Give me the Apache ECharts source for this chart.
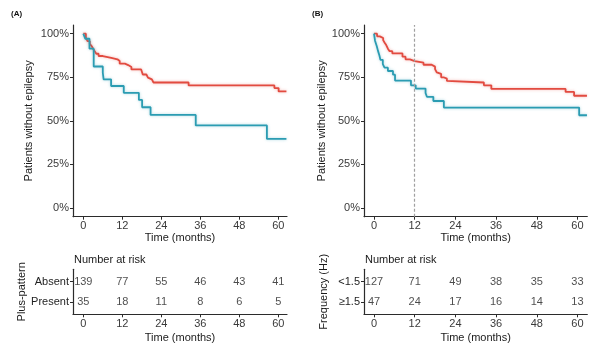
<!DOCTYPE html>
<html>
<head>
<meta charset="utf-8">
<script src="https://cdn.jsdelivr.net/npm/echarts@6/dist/echarts.min.js"></script>
<style>
  html, body { margin: 0; padding: 0; background: #fff; }
  #chart { width: 602px; height: 347px; }
</style>
</head>
<body>
<div id="chart"></div>
<script>
// Kaplan-Meier estimates: time in months, survival fraction
const timeTicks = [0, 12, 24, 36, 48, 60];
const survTicks = [0, 0.25, 0.5, 0.75, 1];

// (A) Plus-pattern
const absentTime = [0, 0.8, 1.3, 2.0, 2.6, 3.0, 3.5, 4.0, 4.7, 6.0, 8.6, 10.5, 11.2, 12.8, 13.8, 14.8, 17.8, 18.3, 19.4, 19.9, 20.4, 21.1, 21.6, 32.4, 58.8, 60.1, 62.5];
const absentSurv = [1, 0.978, 0.957, 0.942, 0.928, 0.914, 0.90, 0.885, 0.872, 0.862, 0.853, 0.843, 0.828, 0.82, 0.809, 0.795, 0.786, 0.766, 0.757, 0.748, 0.738, 0.729, 0.72, 0.703, 0.688, 0.669, 0.669];
const presentTime = [0, 0.6, 1.9, 3.2, 6.0, 6.25, 8.55, 12.45, 17.1, 18.1, 20.7, 34.6, 56.5, 62.5];
const presentSurv = [1, 0.971, 0.914, 0.812, 0.776, 0.738, 0.70, 0.661, 0.62, 0.578, 0.534, 0.474, 0.396, 0.396];
const absentRisk = [139, 77, 55, 46, 43, 41];
const presentRisk = [35, 18, 11, 8, 6, 5];

// (B) Frequency (Hz)
const lowTime = [0, 0.9, 1.7, 2.7, 3.1, 3.6, 4.1, 4.6, 5.4, 8.4, 9.3, 10.6, 12.0, 14.6, 17.0, 18.0, 18.5, 19.0, 19.8, 20.5, 21.5, 21.8, 32.4, 34.6, 56.5, 59.0, 62.8];
const lowSurv = [1, 0.985, 0.975, 0.963, 0.95, 0.935, 0.914, 0.90, 0.887, 0.868, 0.853, 0.843, 0.834, 0.822, 0.811, 0.797, 0.778, 0.769, 0.75, 0.742, 0.729, 0.72, 0.704, 0.683, 0.666, 0.644, 0.644];
const highTime = [0, 0.3, 0.8, 1.2, 1.6, 1.9, 2.6, 3.1, 4.1, 5.6, 6.2, 10.9, 12.3, 15.2, 15.6, 17.5, 20.6, 60.5, 62.8];
const highSurv = [1, 0.96, 0.93, 0.90, 0.875, 0.85, 0.825, 0.805, 0.786, 0.765, 0.731, 0.704, 0.685, 0.66, 0.638, 0.614, 0.576, 0.532, 0.532];
const lowRisk = [127, 71, 49, 38, 35, 33];
const highRisk = [47, 24, 17, 16, 14, 13];

const landmarkMonth = 12;

const RED = '#E24B40';
const TEAL = '#2B9CB2';
const FONT = '"Liberation Sans", Arial, sans-serif';
const AXIS_COLOR = '#2b2b2b';
const TICK_TEXT = '#3a3a3a';

const zip = (t, s) => t.map((v, i) => [v, s[i]]);

function kmSeries(xi, t, s, color, extra) {
  return Object.assign({
    type: 'line', xAxisIndex: xi, yAxisIndex: xi,
    data: zip(t, s), step: 'end', symbol: 'none', silent: true,
    lineStyle: { color: color, width: 1.8, shadowBlur: 3, shadowColor: color + '66' },
    z: 3
  }, extra || {});
}

function riskSeries(xi, counts, row) {
  return {
    type: 'scatter', xAxisIndex: xi, yAxisIndex: xi,
    symbol: 'circle', symbolSize: 1, itemStyle: { color: 'transparent' }, silent: true,
    data: timeTicks.map((t, i) => [t, row, counts[i]]),
    label: { show: true, position: 'inside', formatter: p => String(p.value[2]),
             color: '#1e1e1e', fontSize: 11, fontFamily: FONT }
  };
}

function xAxisCfg(gi, min, max, gapName) {
  return {
    gridIndex: gi, type: 'value', min: min, max: max,
    name: 'Time (months)', nameLocation: 'middle', nameGap: gapName, nameMoveOverlap: false,
    nameTextStyle: { color: '#1a1a1a', fontSize: 11, fontFamily: FONT },
    axisLine: { show: true, onZero: false, lineStyle: { color: AXIS_COLOR, width: 1.2 } },
    axisTick: { show: true, length: 3, customValues: timeTicks, lineStyle: { color: AXIS_COLOR } },
    axisLabel: { customValues: timeTicks, margin: 4, color: TICK_TEXT, fontSize: 11, fontFamily: FONT },
    splitLine: { show: false }
  };
}

function yAxisSurv(gi, gap) {
  return {
    gridIndex: gi, type: 'value', min: -0.05, max: 1.05,
    name: 'Patients without epilepsy', nameLocation: 'middle', nameGap: gap, nameRotate: 90,
    nameTextStyle: { color: '#1a1a1a', fontSize: 11, fontFamily: FONT },
    axisLine: { show: true, onZero: false, lineStyle: { color: AXIS_COLOR, width: 1.2 } },
    axisTick: { show: true, length: 3, customValues: survTicks, lineStyle: { color: AXIS_COLOR } },
    axisLabel: { customValues: survTicks, margin: 4, color: TICK_TEXT, fontSize: 11, fontFamily: FONT,
                 formatter: v => Math.round(v * 100) + '%' },
    splitLine: { show: false }
  };
}

function yAxisRisk(gi, title, names, gap) {
  return {
    gridIndex: gi, type: 'value', min: 0.4, max: 2.6,
    name: title, nameLocation: 'middle', nameGap: gap, nameRotate: 90,
    nameTextStyle: { color: '#1a1a1a', fontSize: 11, fontFamily: FONT },
    axisLine: { show: true, onZero: false, lineStyle: { color: AXIS_COLOR, width: 1.2 } },
    axisTick: { show: true, length: 3, customValues: [1, 2], lineStyle: { color: AXIS_COLOR } },
    axisLabel: { customValues: [1, 2], margin: 4, color: '#1e1e1e', fontSize: 11, fontFamily: FONT,
                 formatter: v => names[v] },
    splitLine: { show: false }
  };
}

const chart = echarts.init(document.getElementById('chart'), null, { renderer: 'canvas' });

chart.setOption({
  animation: false,
  backgroundColor: '#ffffff',
  grid: [
    { left: 73, top: 25, width: 214, height: 191.7 },
    { left: 73, top: 269.3, width: 214, height: 45 },
    { left: 364, top: 25, width: 223.3, height: 191.7 },
    { left: 364, top: 269.3, width: 223.3, height: 45 }
  ],
  xAxis: [
    xAxisCfg(0, -3.17, 62.68, 16),
    xAxisCfg(1, -3.17, 62.68, 18),
    xAxisCfg(2, -2.95, 62.9, 16),
    xAxisCfg(3, -2.95, 62.9, 18)
  ],
  yAxis: [
    yAxisSurv(0, 39),
    yAxisRisk(1, 'Plus-pattern', { 1: 'Present', 2: 'Absent' }, 44),
    yAxisSurv(2, 31),
    yAxisRisk(3, 'Frequency (Hz)', { 1: '\u22651.5', 2: '<1.5' }, 35)
  ],
  graphic: [
    { type: 'text', left: 11, top: 10, style: { text: '(A)', font: 'bold 8px ' + FONT, fill: '#111' } },
    { type: 'text', left: 312, top: 10, style: { text: '(B)', font: 'bold 8px ' + FONT, fill: '#111' } },
    { type: 'text', left: 74, top: 254, style: { text: 'Number at risk', font: '11px ' + FONT, fill: '#1a1a1a' } },
    { type: 'text', left: 365, top: 254, style: { text: 'Number at risk', font: '11px ' + FONT, fill: '#1a1a1a' } }
  ],
  series: [
    kmSeries(0, absentTime, absentSurv, RED),
    kmSeries(0, presentTime, presentSurv, TEAL),
    riskSeries(1, absentRisk, 2),
    riskSeries(1, presentRisk, 1),
    kmSeries(2, lowTime, lowSurv, RED, {
      markLine: {
        silent: true, symbol: 'none', label: { show: false },
        lineStyle: { color: '#a0a0a0', type: [3, 2], width: 1.2, shadowBlur: 0 },
        data: [{ xAxis: landmarkMonth }]
      }
    }),
    kmSeries(2, highTime, highSurv, TEAL),
    riskSeries(3, lowRisk, 2),
    riskSeries(3, highRisk, 1)
  ]
});
</script>
</body>
</html>
